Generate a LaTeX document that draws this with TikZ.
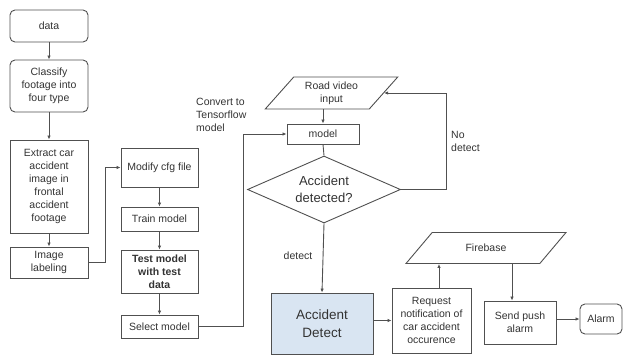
\documentclass[tikz,border=0pt]{standalone}
\usepackage{fontspec}
\setmainfont{Liberation Sans}
\usetikzlibrary{shapes.geometric,arrows.meta}
\definecolor{linegray}{HTML}{505050}
\definecolor{textgray}{HTML}{333333}
\definecolor{detectblue}{HTML}{D9E5F2}
\tikzset{
  box/.style={draw=linegray, line width=0.9pt, align=center, inner sep=1pt,
    text=textgray, font=\fontsize{10.5}{13}\selectfont},
  rbox/.style={box, rounded corners=5pt},
  iobox/.style={box, trapezium, trapezium stretches=true},
  decision/.style={box, diamond, aspect=2.3, inner sep=0pt,
    font=\fontsize{13}{16.5}\selectfont},
  arr/.style={draw=linegray, line width=0.9pt, -{Latex[length=4pt,width=3.5pt]}},
  link/.style={draw=linegray, line width=0.9pt},
  note/.style={text=textgray, align=left, inner sep=0pt,
    font=\fontsize{10.5}{13}\selectfont},
}
\begin{document}
\begin{tikzpicture}[x=1pt, y=-1pt]
  \useasboundingbox (0,0) rectangle (624,356);

  % training pipeline
  \node[rbox, minimum width=78, minimum height=32] (data) at (49,26) {data};
  \node[rbox, minimum width=78, minimum height=52] (classify) at (49,86) {Classify\\footage into\\four type};
  \node[box, minimum width=78, minimum height=93] (extract) at (49,186.5) {Extract car\\accident\\image in\\frontal\\accident\\footage};
  \node[box, minimum width=78, minimum height=31] (labeling) at (49,262.5) {Image\\labeling};

  \node[box, minimum width=77, minimum height=39] (modify) at (159.5,167.5) {Modify cfg file};
  \node[box, minimum width=77, minimum height=24] (train) at (159.5,219) {Train model};
  \node[box, minimum width=77, minimum height=43, font=\fontsize{10.5}{13}\selectfont\bfseries] (test) at (159.5,271.5) {Test model\\with test\\data};
  \node[box, minimum width=77, minimum height=23] (select) at (159.5,326.5) {Select model};

  % detection loop
  \node[iobox, trapezium left angle=50, trapezium right angle=130,
    minimum width=133, minimum height=32] (road) at (331.5,93) {Road video\\input};
  \node[box, minimum width=72, minimum height=20] (model) at (323,134) {model};
  \node[decision, minimum width=153, minimum height=67] (decide) at (324,189.5) {Accident\\detected?};
  \node[box, fill=detectblue, minimum width=102, minimum height=61,
    font=\fontsize{13.5}{18}\selectfont] (detect) at (322,323.5) {Accident\\Detect};

  % notification
  \node[box, minimum width=79, minimum height=65] (request) at (431.5,320.5) {Request\\notification of\\car accident\\occurence};
  \node[iobox, trapezium left angle=43, trapezium right angle=137,
    minimum width=160, minimum height=31] (firebase) at (486,248) {Firebase};
  \node[box, minimum width=72, minimum height=43] (push) at (520,322.5) {Send push\\alarm};
  \node[rbox, minimum width=42, minimum height=30] (alarm) at (601,319) {Alarm};

  % labels
  \node[note, anchor=north west] (convert) at (196,98) {Convert to\\Tensorflow\\model};
  \node[note, anchor=north west] (nodetect) at (451,131) {No\\detect};
  \node[note] (detectlbl) at (298,256) {detect};

  % connectors
  \draw[arr] (data) -- (classify);
  \draw[arr] (classify) -- (extract);
  \draw[arr] (extract) -- (labeling);
  \draw[arr] (labeling.east) -- ++(17,0) |- (modify.west);
  \draw[arr] (modify) -- (train);
  \draw[arr] (train) -- (test);
  \draw[arr] (test) -- (select);
  \draw[arr] (select.east) -- ++(45,0) |- (model.west);
  \draw[arr] (model.north |- road.south) -- (model.north);
  \draw[link] (model.south) -- (decide.north);
  \draw[arr] (decide.east) -- ++(45,0) |- (road.east);
  \draw[arr] (decide.south) -- (detect.north);
  \draw[arr] (detect.east |- request.west) -- (request.west);
  \draw[arr] ([xshift=7.5pt]request.north) -- ([xshift=7.5pt]request.north |- firebase.south);
  \draw[arr] ([xshift=-8pt]push.north |- firebase.south) -- ([xshift=-8pt]push.north);
  \draw[arr] (push.east |- alarm.west) -- (alarm.west);
\end{tikzpicture}
\end{document}
